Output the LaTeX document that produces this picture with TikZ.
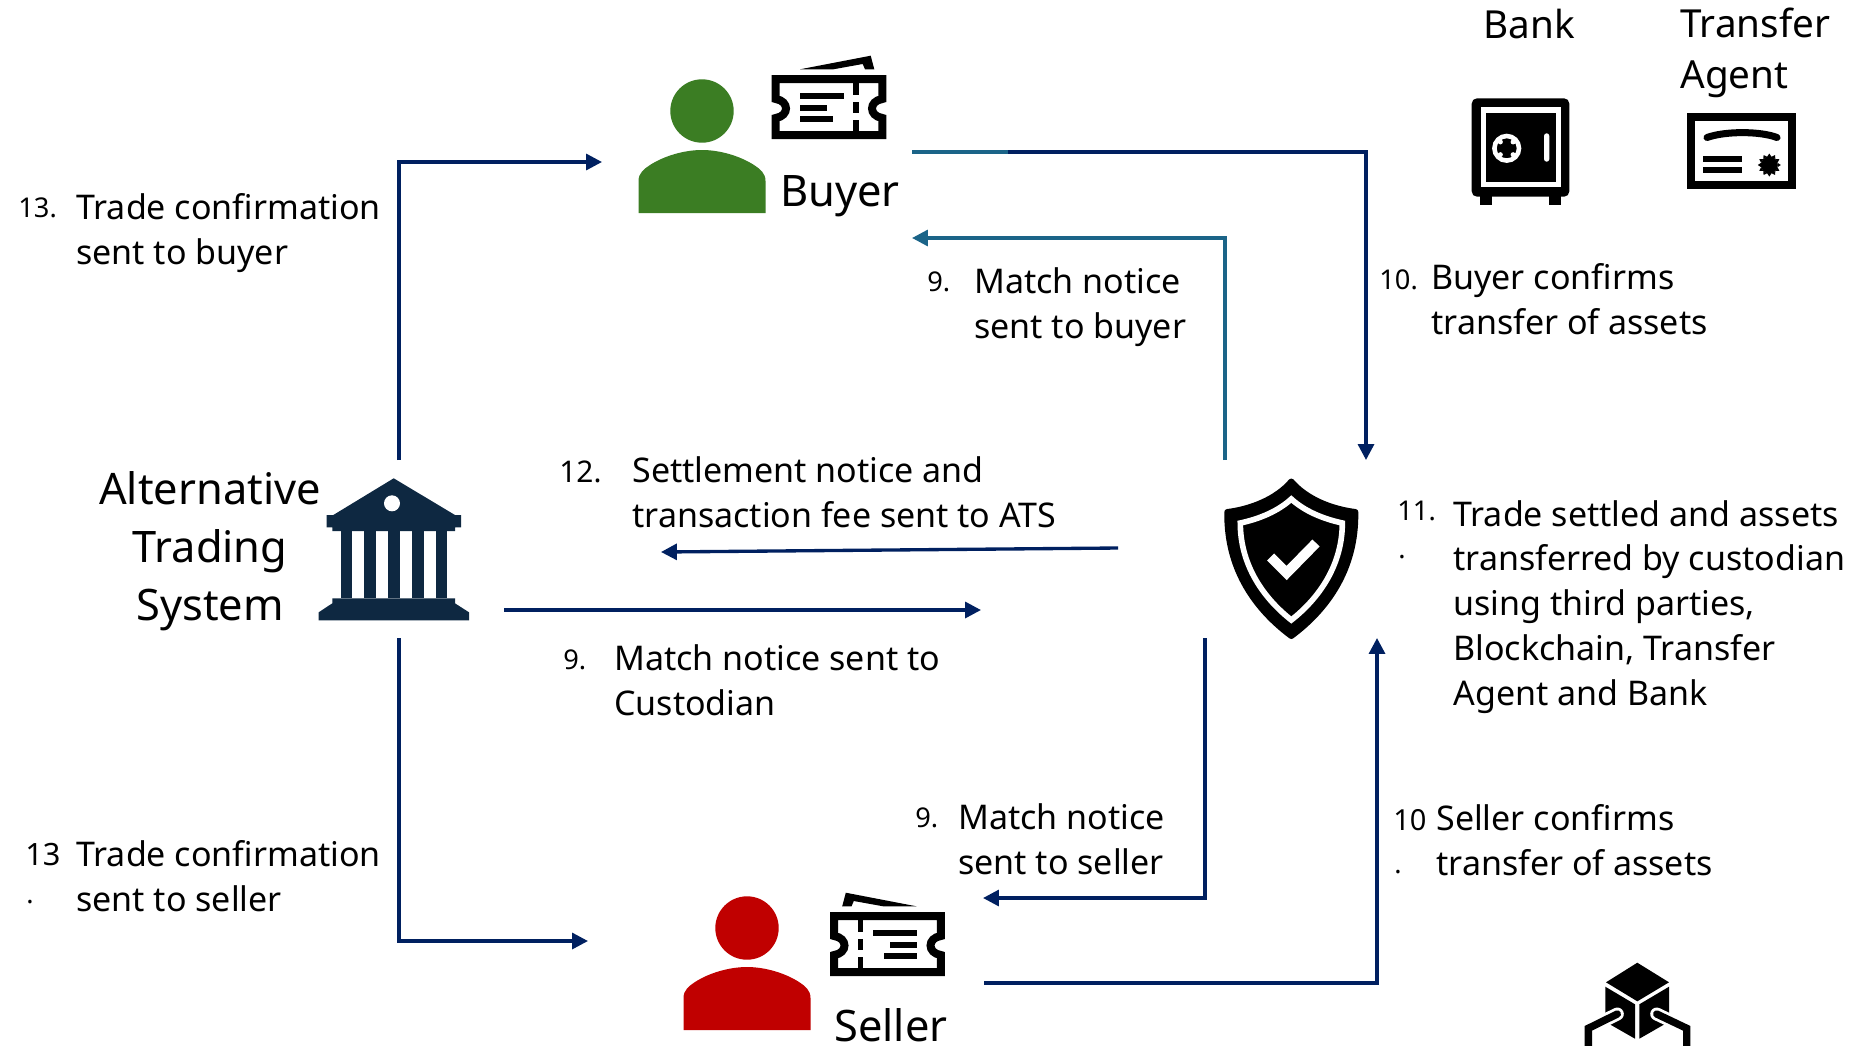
\documentclass[tikz,border=0pt]{standalone}
\usepackage{fontspec}
\usetikzlibrary{arrows.meta}
\setmainfont{Noto Sans}
\definecolor{navyline}{HTML}{002060}
\definecolor{tealline}{HTML}{1B6488}
\definecolor{buyergreen}{HTML}{3B7D23}
\definecolor{sellerred}{HTML}{C00000}
\definecolor{atsblue}{HTML}{0E2841}
\tikzset{
  every node/.style={inner sep=0pt},
  lab/.style={anchor=base west, align=left, font=\fontsize{19.35}{25.44}\selectfont},
  num/.style={anchor=base west, font=\fontsize{15.5}{25.44}\selectfont},
  big/.style={anchor=base, font=\fontsize{24.7}{33}\selectfont},
  top/.style={anchor=base west, align=left, font=\fontsize{22}{28.9}\selectfont},
  arrow/.style={-{Triangle[length=9pt,width=9pt]}, line width=1.9pt, navyline},
  person/.pic={
    \fill (0,0) circle[radius=31.7];
    \fill (-63.5,102) -- (-63.5,70) .. controls (-63.5,62) and (-58,58) .. (-52,54)
      .. controls (-38,45) and (-18,39) .. (0,39)
      .. controls (18,39) and (38,45) .. (52,54)
      .. controls (58,58) and (63.5,62) .. (63.5,70) -- (63.5,102) -- cycle;
  },
  ticket/.pic={
    \draw[line width=4.55pt] (-53.3,-28) -- (-53.3,-8) .. controls (-39.6,-6) and (-39.6,9) .. (-53.3,11)
      -- (-53.3,28) -- (53.3,28) -- (53.3,11) .. controls (39.6,9) and (39.6,-6) .. (53.3,-8)
      -- (53.3,-28) -- cycle;
    \fill (-29.3,-14.5) rectangle (14.7,-8.5);
    \fill (-29.3,-2.2) rectangle (-2,3.8);
    \fill (-29.3,8.8) rectangle (4,14.8);
    \fill (24.3,-24) rectangle (30,-12);
    \fill (24.3,-5.5) rectangle (30,6);
    \fill (24.3,13) rectangle (30,24);
    \fill (-29,-37.7) -- (41.7,-51.3) -- (45.3,-37.7) -- (36,-37.7) -- (33.7,-43) -- (4.3,-37.7) -- cycle;
  }
}
\begin{document}
\begin{tikzpicture}[x=0.02cm, y=-0.02cm]
\useasboundingbox (0,0) rectangle (1851,1045);
%%%%%%%%%%%%%
\coordinate (atsN) at (399,460);
\coordinate (atsS) at (399,638);
\coordinate (atsE) at (504,610);
\coordinate (atsW) at (661,552);
\coordinate (buyerW) at (602,162);
\coordinate (buyerE) at (912,152);
\coordinate (buyerF) at (912,238);
\coordinate (buyerG) at (1008,152);
\coordinate (sellerW) at (588,941);
\coordinate (sellerE) at (983,898);
\coordinate (sellerF) at (984,983);
\coordinate (custN) at (1366,460);
\coordinate (custM) at (1225,460);
\coordinate (custW) at (1118,548);
\coordinate (custA) at (981,610);
\coordinate (custS) at (1205,638);
\coordinate (custT) at (1377,638);
%%%%%%%%%%%%%
\draw[arrow] (atsN) |- (buyerW);
\draw[arrow] (atsS) |- (sellerW);
\draw[arrow] (buyerE) -| (custN);
\draw[line width=1.9pt, tealline] (buyerE) -- (buyerG);
\draw[arrow, tealline] (custM) |- (buyerF);
\draw[arrow] (custW) -- (atsW);
\draw[arrow] (atsE) -- (custA);
\draw[arrow] (custS) |- (sellerE);
\draw[arrow] (sellerF) -| (custT);
%%%%%%%%%%%%%
\pic[buyergreen] at (702,111) {person};
\pic[sellerred] at (747,928) {person};
\pic at (829,107) {ticket};
\pic[xscale=-1] at (887.5,944) {ticket};
%%%%%%%%%%%%%
\fill[atsblue] (393.7,478.3) -- (455,515) -- (461,515) -- (461,527.3) -- (455,527.3) -- (455,531)
  -- (332.3,531) -- (332.3,527.3) -- (326.7,527.3) -- (326.7,515) -- (333.3,515) -- cycle;
\fill[white] (392,503.3) circle[radius=8];
\foreach \colx in {340.7,364.3,388,412,435.7}
  \fill[atsblue] (\colx,531) rectangle +(11.5,67.3);
\fill[atsblue] (332.3,598.3) -- (455,598.3) -- (455,603.3) -- (469,612.3) -- (469,620.3)
  -- (318.7,620.3) -- (318.7,612.3) -- (332.3,603.3) -- cycle;
%%%%%%%%%%%%%
\begin{scope}[shift={(1291.3,0)}]
\filldraw[line width=3.4pt, line join=round] (0,481.5) .. controls (-15,499) and (-40,509) .. (-64,512)
  .. controls (-65,570) and (-35,610) .. (0,636)
  .. controls (35,610) and (65,570) .. (64,512)
  .. controls (40,509) and (15,499) .. (0,481.5) -- cycle;
\draw[white, line width=3.2pt] (0,499) .. controls (-13,511) and (-32,519) .. (-51,523)
  .. controls (-51,565) and (-28,598) .. (0,620)
  .. controls (28,598) and (51,565) .. (51,523)
  .. controls (32,519) and (13,511) .. (0,499) -- cycle;
\draw[white, line width=5.7pt] (-20.7,557) -- (-4.7,573) -- (24.7,543);
\end{scope}
%%%%%%%%%%%%%
\fill[rounded corners=3pt] (1471.7,98.3) rectangle (1569.3,196.7);
\fill (1480,190) rectangle (1492,204.7);
\fill (1549,190) rectangle (1561,204.7);
\draw[white, line width=3pt] (1483.3,110) rectangle (1558.5,184.7);
\draw[white, line width=2.6pt] (1506.7,148.3) circle[radius=12.3];
\foreach \ang in {45,135,225,315}
  \fill[white] (1506.7,148.3) ++(\ang:9) circle[radius=2.5];
\fill[white, rounded corners=1.5pt] (1544,133.3) rectangle (1549.3,161.7);
%%%%%%%%%%%%%
\draw[line width=4.55pt] (1691,116.5) rectangle (1792,185);
\draw[line width=4pt, line cap=round] (1707,137.5) .. controls (1725,131) and (1760,131) .. (1777,137.5);
\fill (1703,156) rectangle (1742,162);
\fill (1703,167.3) rectangle (1742,173.3);
\begin{scope}[shift={(1769.3,165)}]
\fill (0,0) circle[radius=8.5];
\foreach \ang in {0,30,...,330}
  \fill (\ang-15:8.5) -- (\ang:11.5) -- (\ang+15:8.5) -- cycle;
\end{scope}
%%%%%%%%%%%%%
\fill (1637.3,962.7) -- (1669,982.3) -- (1637.3,1001.3) -- (1606,982.3) -- cycle;
\fill (1605.3,986.7) -- (1635,1004.3) -- (1635,1038.7) -- (1605.3,1021.7) -- cycle;
\fill (1669,986.7) -- (1639.3,1004.3) -- (1639.3,1038.7) -- (1669,1021.7) -- cycle;
\draw[white, line width=7.4pt, line cap=round] (1617.3,1014) -- (1588.3,1028.3) -- (1588.3,1050);
\draw[white, line width=7.4pt, line cap=round] (1656.7,1014) -- (1686.7,1028.3) -- (1686.7,1050);
\draw[line width=4.2pt, line cap=round] (1617.3,1014) -- (1588.3,1028.3) -- (1588.3,1050);
\draw[line width=4.2pt, line cap=round] (1656.7,1014) -- (1686.7,1028.3) -- (1686.7,1050);
%%%%%%%%%%%%%
\node[big] (atsa) at (210,504) {Alternative};
\node[big] (atsb) at (210,562) {Trading};
\node[big] (atsc) at (210,620) {System};
\node[big, anchor=base west] (buyer) at (780,206) {Buyer};
\node[big, anchor=base west] (seller) at (834,1041) {Seller};
\node[top] (bank) at (1483,38) {Bank};
\node[top] (agent) at (1680,88) {Transfer\\Agent};
%%%%%%%%%%%%%
\node[num] (n13a) at (18,217) {13.};
\node[lab] (t13a) at (76,264) {Trade confirmation\\sent to buyer};
\node[num] (n9a) at (927,291) {9.};
\node[lab] (t9a) at (974,338) {Match notice\\sent to buyer};
\node[num] (n10a) at (1379,289) {10.};
\node[lab] (t10a) at (1431,334) {Buyer confirms\\transfer of assets};
\node[num, font=\fontsize{17}{25.44}\selectfont] (n12) at (559,482) {12{\bfseries.}};
\node[lab] (t12) at (632,527) {Settlement notice and\\transaction fee sent to ATS};
\node[num] (n11) at (1397,520) {11.};
\node[num] (d11) at (1398,558) {.};
\node[lab] (t11) at (1453,705) {Trade settled and assets\\transferred by custodian\\using third parties,\\Blockchain, Transfer\\Agent and Bank};
\node[num] (n9b) at (563,669) {9.};
\node[lab] (t9b) at (614,715) {Match notice sent to\\Custodian};
\node[num] (n9c) at (915,827) {9.};
\node[lab] (t9c) at (958,874) {Match notice\\sent to seller};
\node[num, font=\fontsize{16.5}{25.44}\selectfont] (n10b) at (1393,830) {10};
\node[num] (d10b) at (1394,873) {.};
\node[lab] (t10b) at (1436,875) {Seller confirms\\transfer of assets};
\node[num, font=\fontsize{17.5}{25.44}\selectfont] (n13b) at (25,865) {13};
\node[num] (d13b) at (26,903) {.};
\node[lab] (t13b) at (76,911) {Trade confirmation\\sent to seller};
\end{tikzpicture}
\end{document}
